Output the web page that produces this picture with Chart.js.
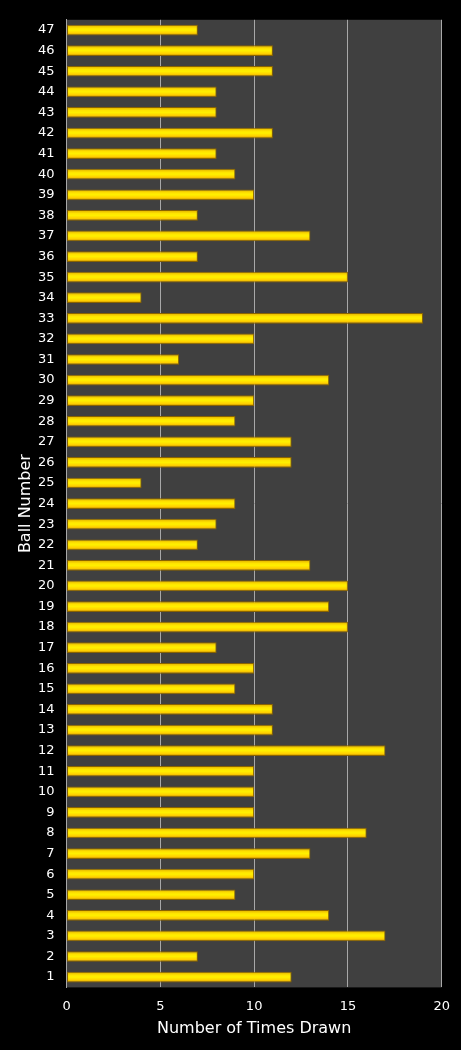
<!DOCTYPE html>
<html>
<head>
<meta charset="utf-8">
<script src="https://cdn.jsdelivr.net/npm/chart.js@4.4.0/dist/chart.umd.min.js"></script>
<style>
  html, body { margin: 0; padding: 0; background: #000; }
  #wrap { width: 461px; height: 1050px; }
</style>
</head>
<body>
<div id="wrap"><canvas id="chart"></canvas></div>
<script>
// Lottery ball draw frequency
const balls = [
  "1", "2", "3", "4", "5", "6", "7", "8", "9", "10",
  "11", "12", "13", "14", "15", "16", "17", "18", "19", "20",
  "21", "22", "23", "24", "25", "26", "27", "28", "29", "30",
  "31", "32", "33", "34", "35", "36", "37", "38", "39", "40",
  "41", "42", "43", "44", "45", "46", "47",
];
const timesDrawn = [
  12, 7, 17, 14, 9, 10, 13, 16, 10, 10,
  10, 17, 11, 11, 9, 10, 8, 15, 14, 15,
  13, 7, 8, 9, 4, 12, 12, 9, 10, 14,
  6, 10, 19, 4, 15, 7, 13, 7, 10, 9,
  8, 11, 8, 8, 11, 11, 7,
];
const xTicks = [0, 5, 10, 15, 20];

const ctx = document.querySelector("#chart").getContext("2d");

const plotBackground = {
  id: "plotBackground",
  beforeDraw(chart) {
    const { ctx, chartArea } = chart;
    ctx.save();
    ctx.fillStyle = "#404040";
    ctx.fillRect(chartArea.left, chartArea.top, chartArea.right - chartArea.left, chartArea.bottom - chartArea.top);
    ctx.restore();
  },
};

function barGradient(context) {
  const chart = context.chart;
  const yScale = chart.scales.y;
  if (!chart.chartArea || !yScale) {
    return "#ffd700";
  }
  const y = yScale.getPixelForValue(context.dataIndex);
  const g = chart.ctx.createLinearGradient(0, y - 5, 0, y + 5);
  g.addColorStop(0, "#e0b000");
  g.addColorStop(0.3, "#ffe400");
  g.addColorStop(0.5, "#fff000");
  g.addColorStop(0.8, "#ffcf00");
  g.addColorStop(1, "#c08c00");
  return g;
}

const chart = new Chart(ctx, {
  type: "bar",
  data: {
    labels: balls,
    datasets: [
      {
        data: timesDrawn,
        backgroundColor: barGradient,
        borderColor: "#8a6400",
        borderWidth: 1,
        borderSkipped: false,
        barPercentage: 0.52,
        categoryPercentage: 1,
      },
    ],
  },
  options: {
    indexAxis: "y",
    responsive: true,
    maintainAspectRatio: false,
    animation: false,
    layout: { padding: { top: 17, right: 12, left: 18, bottom: 13 } },
    plugins: {
      legend: { display: false },
      tooltip: { enabled: false },
    },
    scales: {
      x: {
        min: 0,
        max: 20,
        afterBuildTicks(axis) {
          axis.ticks = xTicks.map((v) => ({ value: v }));
        },
        grid: {
          color: "#a8a8a8",
          lineWidth: 1,
          drawTicks: false,
        },
        border: { display: false },
        ticks: {
          color: "#ffffff",
          padding: 11,
          font: { family: "DejaVu Sans", size: 13 },
        },
        title: {
          display: true,
          text: "Number of Times Drawn",
          color: "#ffffff",
          padding: { top: -4, bottom: 0 },
          font: { family: "DejaVu Sans", size: 16, lineHeight: 1 },
        },
      },
      y: {
        reverse: true,
        grid: { display: false, drawTicks: false },
        border: { display: true, color: "#a8a8a8", width: 1 },
        ticks: {
          color: "#ffffff",
          padding: 12,
          autoSkip: false,
          font: { family: "DejaVu Sans", size: 13 },
        },
        title: {
          display: true,
          text: "Ball Number",
          color: "#ffffff",
          padding: { top: 0, bottom: -8 },
          font: { family: "DejaVu Sans", size: 16, lineHeight: 1 },
        },
      },
    },
  },
  plugins: [plotBackground],
});
</script>
</body>
</html>
